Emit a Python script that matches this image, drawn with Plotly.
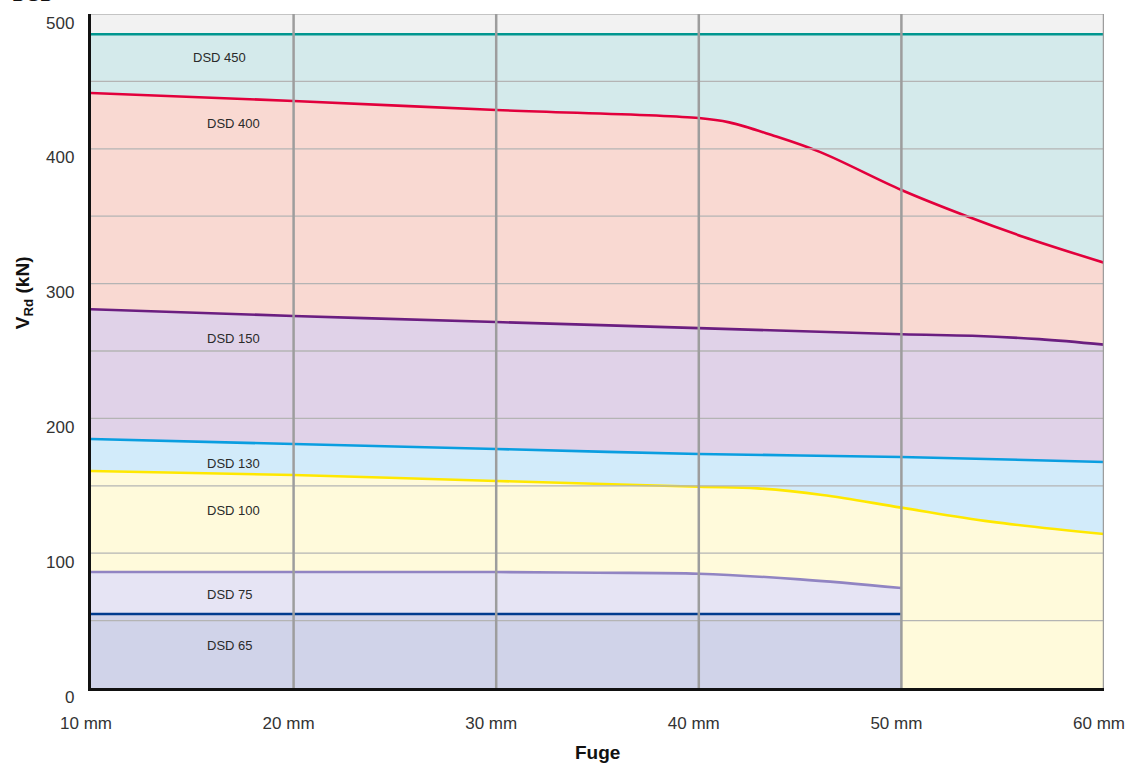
import plotly.graph_objects as go

# ---- data ----
dsd450_x = [10, 60]
dsd450_y = [485, 485]

dsd400_x = [10, 20, 30, 40, 41.5, 43.6, 46, 50, 53.2, 56, 60]
dsd400_y = [441.4, 435.5, 428.8, 422.8, 419.6, 410.2, 397.5, 369.4, 350.1, 334.8, 315.5]

dsd150_x = [10, 20, 30, 40, 50, 53.5, 56.8, 60]
dsd150_y = [281, 276, 271.5, 267, 262.4, 261.3, 258.8, 254.7]

dsd130_x = [10, 20, 30, 40, 50, 60]
dsd130_y = [184.7, 181, 177.3, 173.6, 171.4, 167.7]

dsd100_x = [10, 20, 30, 40, 42.9, 46.1, 50, 54.4, 60]
dsd100_y = [161, 158, 153.6, 149.3, 148.1, 143.2, 133.8, 123.4, 114.2]

dsd75_x = [10, 20, 30, 35, 40, 45, 50]
dsd75_y = [86, 86, 86, 85.5, 84.8, 80.6, 74.2]

dsd65_x = [10, 50]
dsd65_y = [54.9, 54.9]

series_names = ["DSD 450", "DSD 400", "DSD 150", "DSD 130", "DSD 100", "DSD 75", "DSD 65"]
line_colors = ["#00968f", "#e2003c", "#6b1e80", "#0a9ee0", "#ffe800", "#9184c2", "#003b8e"]
fill_colors = ["#d4eaeb", "#f9d9d2", "#e0d2e8", "#d2ebfa", "#fffadb", "#e6e4f4", "#d0d3e9"]

label_x = [14.93, 15.62, 15.62, 15.62, 15.62, 15.62, 15.62]
label_y = [467.4, 419, 259.6, 166.9, 132, 69, 31.9]

x_ticks = [10, 20, 30, 40, 50, 60]
x_tick_text = ["10 mm", "20 mm", "30 mm", "40 mm", "50 mm", "60 mm"]
y_ticks = [0, 100, 200, 300, 400, 500]
y_grid = [50, 100, 150, 200, 250, 300, 350, 400, 450, 500]

xs = [dsd450_x, dsd400_x, dsd150_x, dsd130_x, dsd100_x, dsd75_x, dsd65_x]
ys = [dsd450_y, dsd400_y, dsd150_y, dsd130_y, dsd100_y, dsd75_y, dsd65_y]

fig = go.Figure()
for name, xv, yv, lc, fc in zip(series_names, xs, ys, line_colors, fill_colors):
    fig.add_trace(go.Scatter(
        x=xv, y=yv, name=name, mode="lines",
        line=dict(color=lc, width=2.6, shape="spline", smoothing=1.0),
        fill="tozeroy", fillcolor=fc, showlegend=False, hoverinfo="skip",
    ))

shapes = []
for gy in y_grid:
    shapes.append(dict(type="line", xref="x", yref="y", x0=10, x1=60, y0=gy, y1=gy,
                       line=dict(color="#b4b4b4", width=1.3), layer="above"))
for gx in x_ticks[1:]:
    shapes.append(dict(type="line", xref="x", yref="y", x0=gx, x1=gx, y0=0, y1=500,
                       line=dict(color="#9d9d9d", width=2.5), layer="above"))

tick_font = dict(family="Liberation Sans, Arial", size=17, color="#333")
annotations = []
for name, lx, ly in zip(series_names, label_x, label_y):
    annotations.append(dict(x=lx, y=ly, xref="x", yref="y", text=name, showarrow=False,
                            xanchor="left", yanchor="middle",
                            font=dict(family="Liberation Sans, Arial", size=13, color="#2a2a2a")))
for yt in y_ticks:
    annotations.append(dict(x=0, y=yt, xref="paper", yref="y", text=str(yt), showarrow=False,
                            xanchor="right", yanchor="middle", xshift=-15, yshift=-9,
                            font=tick_font))

annotations.append(dict(x=-0.066, y=0.586, xref="paper", yref="paper",
                        text="<b>V<sub>Rd</sub> (kN)</b>", textangle=-90, showarrow=False,
                        xanchor="center", yanchor="middle",
                        font=dict(family="Liberation Sans, Arial", size=19, color="#111")))
annotations.append(dict(x=0.5, y=0, xref="paper", yref="paper", text="<b>Fuge</b>",
                        showarrow=False, xanchor="center", yanchor="middle", yshift=-64,
                        font=dict(family="Liberation Sans, Arial", size=19, color="#111")))
annotations.append(dict(x=-0.08, y=1, xref="paper", yref="paper", text="<b>DSD</b>",
                        showarrow=False, xanchor="left", yanchor="bottom", yshift=7,
                        font=dict(family="Liberation Sans, Arial", size=20, color="#111")))

fig.update_layout(
    width=1132, height=764,
    margin=dict(l=91, r=28, t=14, b=76, autoexpand=False),
    paper_bgcolor="white", plot_bgcolor="#f2f2f2",
    shapes=shapes, annotations=annotations,
    xaxis=dict(range=[10, 60], tickvals=x_ticks, ticktext=x_tick_text, showgrid=False,
               zeroline=False, showline=True, linecolor="#111", linewidth=3, automargin=False,
               ticks="", ticklabelstandoff=18, ticklabelshift=-5, layer="above traces",
               tickfont=tick_font),
    yaxis=dict(range=[0, 500], showticklabels=False, showgrid=False, zeroline=False,
               showline=True, linecolor="#111", linewidth=3, ticks="", automargin=False,
               layer="above traces"),
)

fig.write_html("out.html", config={"displayModeBar": False},
               post_script="document.body.style.margin='0';document.body.style.overflow='hidden';")
